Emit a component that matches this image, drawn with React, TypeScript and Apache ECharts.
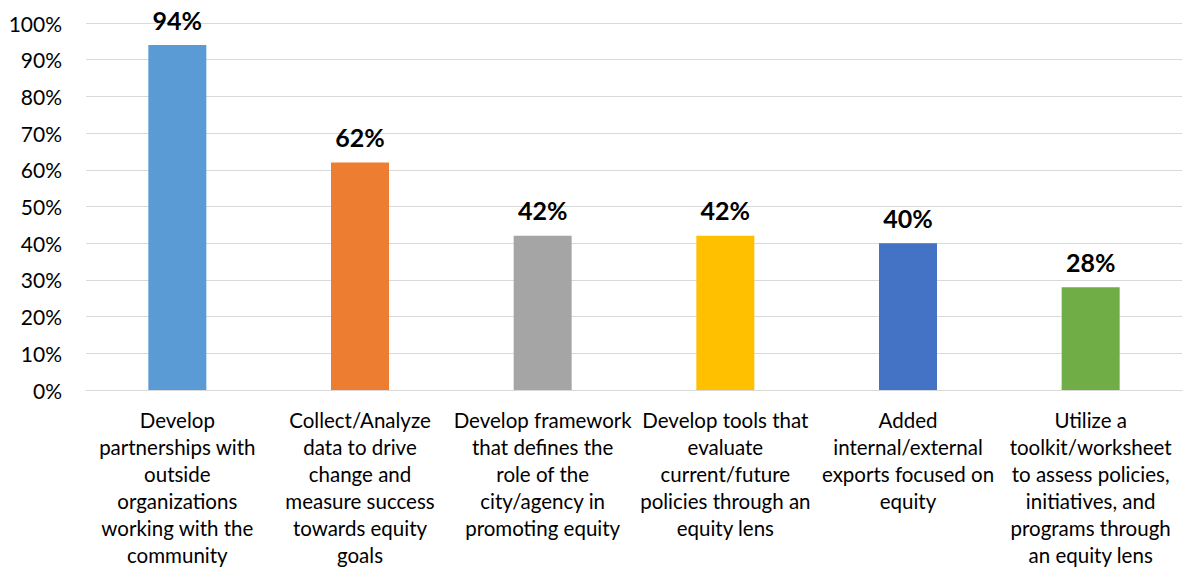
import React, { useEffect, useRef } from "react";
import * as echarts from "echarts";

const categories = [
  "Develop\npartnerships with\noutside\norganizations\nworking with the\ncommunity",
  "Collect/Analyze\ndata to drive\nchange and\nmeasure success\ntowards equity\ngoals",
  "Develop framework\nthat defines the\nrole of the\ncity/agency in\npromoting equity",
  "Develop tools that\nevaluate\ncurrent/future\npolicies through an\nequity lens",
  "Added\ninternal/external\nexports focused on\nequity",
  "Utilize a\ntoolkit/worksheet\nto assess policies,\ninitiatives, and\nprograms through\nan equity lens",
];
const values = [94, 62, 42, 42, 40, 28];
const colors = ["#5B9BD5", "#ED7D31", "#A5A5A5", "#FFC000", "#4472C4", "#70AD47"];

export default function App() {
  const ref = useRef<HTMLDivElement>(null);
  useEffect(() => {
    const chart = echarts.init(ref.current!, null, { renderer: "svg" });
    const font = "Lato, 'Open Sans', sans-serif";
    chart.setOption({
      animation: false,
      grid: { left: 86, right: 2, top: 23, bottom: 182, containLabel: false },
      xAxis: {
        type: "category",
        data: categories,
        axisLine: { show: true, lineStyle: { color: "#d9d9d9", width: 1 } },
        axisTick: { show: false },
        axisLabel: {
          interval: 0,
          color: "#000",
          fontFamily: font,
          fontSize: 20.5,
          lineHeight: 27,
          margin: 16,
          verticalAlign: "top",
        },
      },
      yAxis: {
        type: "value",
        min: 0,
        max: 100,
        interval: 10,
        axisLine: { show: false },
        axisTick: { show: false },
        splitLine: { lineStyle: { color: "#d9d9d9", width: 1 } },
        axisLabel: {
          formatter: "{value}%",
          color: "#000",
          fontFamily: font,
          fontSize: 21,
          margin: 24,
        },
      },
      series: [
        {
          type: "bar",
          data: values.map((v, i) => ({ value: v, itemStyle: { color: colors[i] } })),
          barWidth: 58,
          label: {
            show: true,
            position: "top",
            distance: 13,
            formatter: "{c}%",
            color: "#000",
            fontFamily: font,
            fontWeight: "bold",
            fontSize: 25,
          },
        },
      ],
    });
    return () => chart.dispose();
  }, []);
  return (
    <div
      ref={ref}
      style={{ position: "fixed", left: 0, top: 0, width: 1184, height: 572, background: "#fff" }}
    />
  );
}
